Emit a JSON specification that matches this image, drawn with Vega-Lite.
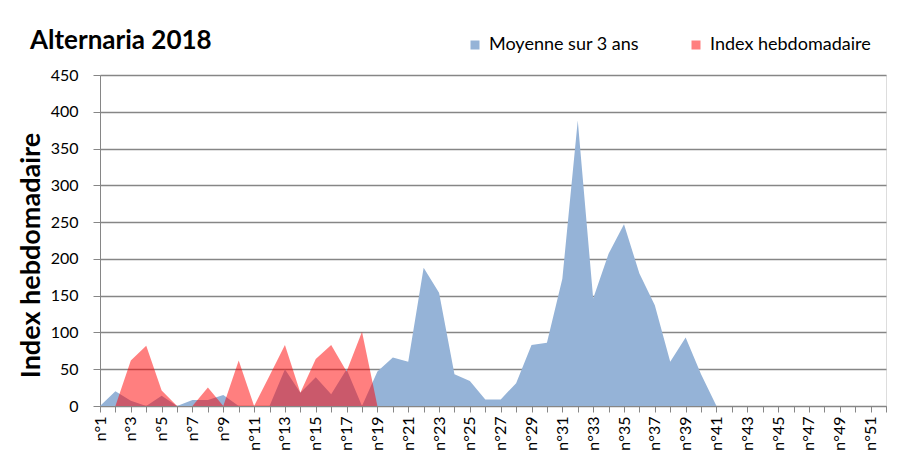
{
  "$schema": "https://vega.github.io/schema/vega-lite/v6.json",
  "autosize": "none",
  "width": 786,
  "height": 331,
  "padding": {"left": 100, "top": 75, "right": 31, "bottom": 67},
  "background": "white",
  "title": {"text": "Alternaria 2018", "anchor": "start", "frame": "group", "dx": -70, "dy": 38, "offset": 20, "fontSize": 26, "fontWeight": "bold", "font": "Lato", "color": "black"},
  "datasets": {
    "moy": [
      {"semaine": "n°1", "valeur": 0}, {"semaine": "n°2", "valeur": 20}, {"semaine": "n°3", "valeur": 7}, {"semaine": "n°4", "valeur": 0},
      {"semaine": "n°5", "valeur": 14}, {"semaine": "n°6", "valeur": 0}, {"semaine": "n°7", "valeur": 8}, {"semaine": "n°8", "valeur": 8},
      {"semaine": "n°9", "valeur": 15}, {"semaine": "n°10", "valeur": 0}, {"semaine": "n°11", "valeur": 0}, {"semaine": "n°12", "valeur": 0},
      {"semaine": "n°13", "valeur": 50}, {"semaine": "n°14", "valeur": 18}, {"semaine": "n°15", "valeur": 39}, {"semaine": "n°16", "valeur": 16},
      {"semaine": "n°17", "valeur": 50}, {"semaine": "n°18", "valeur": 0}, {"semaine": "n°19", "valeur": 47}, {"semaine": "n°20", "valeur": 66},
      {"semaine": "n°21", "valeur": 60}, {"semaine": "n°22", "valeur": 188}, {"semaine": "n°23", "valeur": 154}, {"semaine": "n°24", "valeur": 43},
      {"semaine": "n°25", "valeur": 34}, {"semaine": "n°26", "valeur": 9}, {"semaine": "n°27", "valeur": 9}, {"semaine": "n°28", "valeur": 31},
      {"semaine": "n°29", "valeur": 83}, {"semaine": "n°30", "valeur": 86}, {"semaine": "n°31", "valeur": 173}, {"semaine": "n°32", "valeur": 388},
      {"semaine": "n°33", "valeur": 146}, {"semaine": "n°34", "valeur": 207}, {"semaine": "n°35", "valeur": 247}, {"semaine": "n°36", "valeur": 180},
      {"semaine": "n°37", "valeur": 137}, {"semaine": "n°38", "valeur": 60}, {"semaine": "n°39", "valeur": 93}, {"semaine": "n°40", "valeur": 43},
      {"semaine": "n°41", "valeur": 0}, {"semaine": "n°42", "valeur": 0}, {"semaine": "n°43", "valeur": 0}, {"semaine": "n°44", "valeur": 0},
      {"semaine": "n°45", "valeur": 0}, {"semaine": "n°46", "valeur": 0}, {"semaine": "n°47", "valeur": 0}, {"semaine": "n°48", "valeur": 0},
      {"semaine": "n°49", "valeur": 0}, {"semaine": "n°50", "valeur": 0}, {"semaine": "n°51", "valeur": 0}, {"semaine": "n°52", "valeur": 0}
    ],
    "idx": [
      {"semaine": "n°1", "valeur": 0}, {"semaine": "n°2", "valeur": 0}, {"semaine": "n°3", "valeur": 62}, {"semaine": "n°4", "valeur": 82},
      {"semaine": "n°5", "valeur": 21}, {"semaine": "n°6", "valeur": 0}, {"semaine": "n°7", "valeur": 0}, {"semaine": "n°8", "valeur": 25},
      {"semaine": "n°9", "valeur": 0}, {"semaine": "n°10", "valeur": 62}, {"semaine": "n°11", "valeur": 0}, {"semaine": "n°12", "valeur": 41},
      {"semaine": "n°13", "valeur": 83}, {"semaine": "n°14", "valeur": 18}, {"semaine": "n°15", "valeur": 64}, {"semaine": "n°16", "valeur": 83},
      {"semaine": "n°17", "valeur": 47}, {"semaine": "n°18", "valeur": 101}, {"semaine": "n°19", "valeur": 0}
    ]
  },
  "encoding": {
    "x": {
      "field": "semaine", "type": "ordinal",
      "scale": {"type": "point", "padding": 0, "domain": ["n°1","n°2","n°3","n°4","n°5","n°6","n°7","n°8","n°9","n°10","n°11","n°12","n°13","n°14","n°15","n°16","n°17","n°18","n°19","n°20","n°21","n°22","n°23","n°24","n°25","n°26","n°27","n°28","n°29","n°30","n°31","n°32","n°33","n°34","n°35","n°36","n°37","n°38","n°39","n°40","n°41","n°42","n°43","n°44","n°45","n°46","n°47","n°48","n°49","n°50","n°51","n°52"]},
      "axis": {
        "title": null, "labelAngle": 270, "labelFontSize": 16, "labelFont": "Lato", "labelColor": "black",
        "labelExpr": "toNumber(slice(datum.label, 2)) % 2 == 1 ? datum.label : ''",
        "labelOverlap": false, "labelPadding": 4,
        "domainColor": "#868686", "tickColor": "#868686", "tickSize": 6, "grid": false
      }
    },
    "y": {
      "field": "valeur", "type": "quantitative",
      "scale": {"domain": [0, 450], "nice": false},
      "axis": {
        "title": "Index hebdomadaire", "titleFontSize": 27, "titleFont": "Lato", "titleFontWeight": "bold", "titleColor": "black", "titlePadding": 5, "titleY": 180,
        "values": [0, 50, 100, 150, 200, 250, 300, 350, 400, 450],
        "labelFontSize": 16, "labelFont": "Lato", "labelColor": "black", "labelPadding": 15,
        "domainColor": "#868686", "tickColor": "#868686", "tickSize": 7,
        "grid": true, "gridColor": "#868686", "gridWidth": 1.3
      }
    },
    "color": {
      "field": "serie", "type": "nominal",
      "scale": {"domain": ["Moyenne sur 3 ans", "Index hebdomadaire"], "range": ["#95B3D7", "#FF0000"]},
      "legend": {
        "title": null, "orient": "none", "direction": "horizontal", "legendX": 366, "legendY": -39,
        "symbolType": "square", "symbolSize": 81, "labelFontSize": 18, "labelFont": "Lato", "labelColor": "black", "labelLimit": 400,
        "columnPadding": 48, "labelOffset": 5,
        "encode": {"symbols": {"update": {"opacity": {"signal": "datum.value === 'Index hebdomadaire' ? 0.5 : 1"}, "strokeWidth": {"value": 0}}}}
      }
    }
  },
  "layer": [
    {
      "data": {"name": "moy"},
      "transform": [{"calculate": "'Moyenne sur 3 ans'", "as": "serie"}],
      "mark": {"type": "area", "interpolate": "linear", "opacity": 1}
    },
    {
      "data": {"name": "idx"},
      "transform": [{"calculate": "'Index hebdomadaire'", "as": "serie"}],
      "mark": {"type": "area", "interpolate": "linear", "fillOpacity": 0.5}
    }
  ]
}
